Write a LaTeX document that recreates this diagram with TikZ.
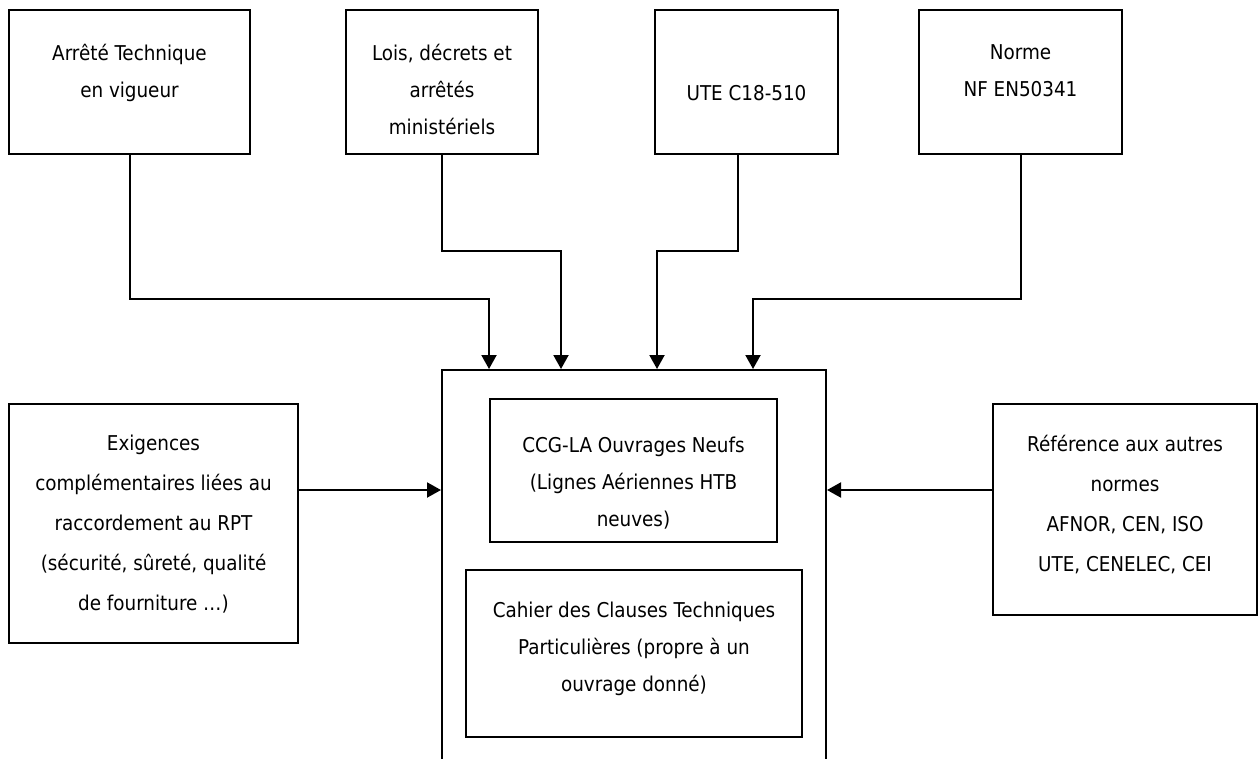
\documentclass[tikz,border=0pt]{standalone}
\usepackage{fontspec}
\setmainfont{DejaVu Sans Condensed}
\usetikzlibrary{arrows.meta,positioning}
\newcommand\boxfont{\fontsize{20.4}{37}\selectfont}
\newcommand\sidefont{\fontsize{20.4}{40}\selectfont}

\begin{document}
\begin{tikzpicture}[x=1pt, y=-1pt,
  frame/.style={draw, line width=2pt, shape=rectangle, inner sep=0pt},
  txt/.style={align=center, inner sep=0pt, font=\boxfont, execute at begin node=\vphantom{Ê}},
  arr/.style={line width=2pt, -{Triangle[length=14pt,width=15pt]}}]
\useasboundingbox (0,0) rectangle (1258,758);
\clip (0,0) rectangle (1258,758);

% sources en haut
\node[frame, minimum width=241pt, minimum height=144pt] (arrete) at (129.5,82) {};
\node[frame, minimum width=192pt, minimum height=144pt] (lois) at (442,82) {};
\node[frame, minimum width=183pt, minimum height=144pt] (ute) at (746.5,82) {};
\node[frame, minimum width=203pt, minimum height=144pt] (norme) at (1020.5,82) {};
\node[txt, below=35pt of arrete.north] (arreteT) {Arrêté Technique\\en vigueur};
\node[txt, below=35pt of lois.north] (loisT) {Lois, décrets et\\arrêtés\\ministériels};
\node[txt, below=72pt of ute.north] (uteT) {UTE C18-510};
\node[txt, below=35pt of norme.north] (normeT) {Norme\\NF EN50341};

% cahier des charges
\node[frame, minimum width=384pt, minimum height=430pt] (main) at (634,585) {};
\node[frame, minimum width=287pt, minimum height=143pt] (ccg) at (633.5,470.5) {};
\node[frame, minimum width=336pt, minimum height=167pt] (cahier) at (634,653.5) {};
\node[txt, below=39pt of ccg.north] (ccgT) {CCG-LA Ouvrages Neufs\\(Lignes Aériennes HTB\\neuves)};
\node[txt, below=33pt of cahier.north] (cahierT) {Cahier des Clauses Techniques\\Particulières (propre à un\\ouvrage donné)};

% cotes
\node[frame, minimum width=289pt, minimum height=239pt] (exig) at (153.5,523.5) {};
\node[frame, minimum width=264pt, minimum height=211pt] (ref) at (1125,509.5) {};
\node[txt, font=\sidefont, below=32pt of exig.north] (exigT) {Exigences\\complémentaires liées au\\raccordement au RPT\\(sécurité, sûreté, qualité\\de fourniture …)};
\node[txt, font=\sidefont, below=32pt of ref.north] (refT) {Référence aux autres\\normes\\AFNOR, CEN, ISO\\UTE, CENELEC, CEI};

\draw[arr] (arrete.south) -- ++(0,144) -| ([xshift=48pt]main.north west);
\draw[arr] (lois.south) -- ++(0,96) -| ([xshift=120pt]main.north west);
\draw[arr] ([xshift=-9pt]ute.south) -- ++(0,96) -| ([xshift=216pt]main.north west);
\draw[arr] (norme.south) -- ++(0,144) -| ([xshift=312pt]main.north west);
\draw[arr] ([yshift=33.5pt]exig.east) coordinate (e1) -- (e1 -| main.west);
\draw[arr] ([yshift=19.5pt]ref.west) coordinate (r1) -- (r1 -| main.east);
\end{tikzpicture}
\end{document}
